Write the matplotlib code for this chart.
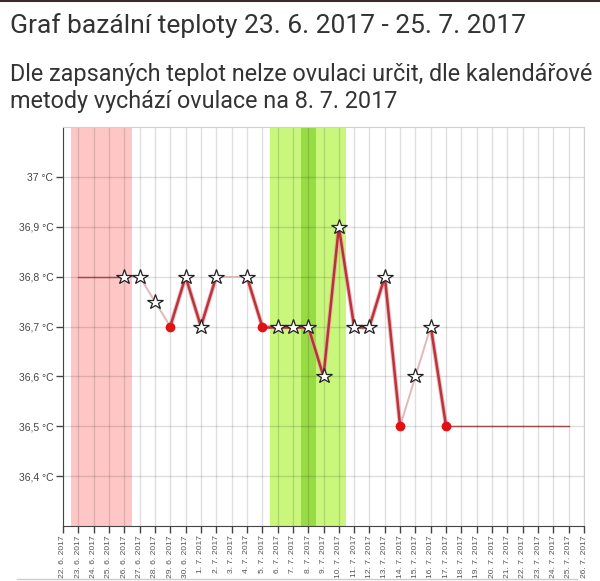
import numpy as np
import matplotlib
matplotlib.use("Agg")
import matplotlib.pyplot as plt
from matplotlib.lines import Line2D

# --- data ---
days = ["22. 6.", "23. 6.", "24. 6.", "25. 6.", "26. 6.", "27. 6.", "28. 6.", "29. 6.", "30. 6.",
        "1. 7.", "2. 7.", "3. 7.", "4. 7.", "5. 7.", "6. 7.", "7. 7.", "8. 7.", "9. 7.", "10. 7.",
        "11. 7.", "12. 7.", "13. 7.", "14. 7.", "15. 7.", "16. 7.", "17. 7.", "18. 7.", "19. 7.",
        "20. 7.", "21. 7.", "22. 7.", "23. 7.", "24. 7.", "25. 7.", "26. 7."]
date_labels = [d + " 2017" for d in days]

nan = np.nan
temps = [nan, 36.8, 36.8, 36.8, 36.8, 36.8, 36.75, 36.7, 36.8, 36.7, 36.8, 36.8, 36.8, 36.7,
         36.7, 36.7, 36.7, 36.6, 36.9, 36.7, 36.7, 36.8, 36.5, 36.6, 36.7, 36.5,
         36.5, 36.5, 36.5, 36.5, 36.5, 36.5, 36.5, 36.5, nan]
# marker per day: s = star (measured), o = red dot, '' = none
markers = ['', '', '', '', 's', 's', 's', 'o', 's', 's', 's', '', 's', 'o',
           's', 's', 's', 's', 's', 's', 's', 's', 'o', 's', 's', 'o',
           '', '', '', '', '', '', '', '', '']
# style of the segment from day i to day i+1 (starting at day 1)
seg_styles = ['flat', 'flat', 'flat', 'thin', 'thin', 'thin', 'thick', 'thick', 'thick', 'thin',
              'thin', 'thick', 'thick', 'thick', 'thick', 'thick', 'thick', 'thick', 'thick',
              'thick', 'thick', 'thin', 'thin', 'thick', 'flat', 'flat', 'flat', 'flat', 'flat',
              'flat', 'flat', 'flat']

period_days = (1, 4)       # menstruation, first and last day index
fertile_days = (14, 18)    # fertile window
ovulation_day = 16

y_ticks = [36.4, 36.5, 36.6, 36.7, 36.8, 36.9, 37.0]

title = "Graf bazální teploty 23. 6. 2017 - 25. 7. 2017"
subtitle_lines = ["Dle zapsaných teplot nelze ovulaci určit, dle kalendářové",
                  "metody vychází ovulace na 8. 7. 2017"]

plt.rcParams['font.family'] = ['Roboto', 'DejaVu Sans']

fig = plt.figure(figsize=(6, 5.81), dpi=100)
ax = fig.add_axes([63 / 600, 1 - 526 / 581, (584 - 63) / 600, (526 - 127) / 581])

x = np.arange(len(days))

# background bands
ax.axvspan(period_days[0] - 0.5, period_days[1] + 0.5, color='#ffc6c6', lw=0, zorder=0)
ax.axvspan(fertile_days[0] - 0.5, fertile_days[1] + 0.5, color='#c8f77c', lw=0, zorder=0)
ax.axvspan(ovulation_day - 0.5, ovulation_day + 0.5, color='#98dc44', lw=0, zorder=0)

# grid
for xi in x:
    ax.axvline(xi, color='#000000', alpha=0.13, lw=1, zorder=1)
for yt in y_ticks:
    ax.axhline(yt, color='#000000', alpha=0.13, lw=1, zorder=1)

# line segments
for i, style in enumerate(seg_styles, start=1):
    xs = [x[i], x[i + 1]]
    ys = [temps[i], temps[i + 1]]
    if style == 'thick':
        ax.plot(xs, ys, color='#e8a0a0', lw=3.2, alpha=0.7, zorder=2, solid_capstyle='round')
        ax.plot(xs, ys, color='#b01c26', lw=1.8, alpha=0.85, zorder=3, solid_capstyle='round')
    elif style == 'thin':
        ax.plot(xs, ys, color='#e2b8b8', lw=1.4, zorder=2)
    else:
        ax.plot(xs, ys, color='#a04848', lw=1.0, zorder=2)

# markers
for xi, t, m in zip(x, temps, markers):
    if m == 's':
        ax.plot(xi, t, marker='*', ms=11.5, mfc='white', mec='#222222', mew=0.9, zorder=5)
    elif m == 'o':
        ax.plot(xi, t, marker='o', ms=6, mfc='#e01212', mec='#e01212', zorder=5)

ax.set_xlim(0, len(days) - 1)
ax.set_ylim(36.3, 37.1)
ax.set_xticks(x)
ax.set_xticklabels(date_labels, rotation=90, fontsize=6.1, color='#555555')
ax.set_yticks(y_ticks)
ax.set_yticklabels([("%g" % v).replace('.', ',') + " °C" for v in y_ticks],
                   fontsize=7.5, color='#444444', family=['Liberation Sans', 'DejaVu Sans'])
for lab in ax.get_xticklabels():
    lab.set_family(['Liberation Sans', 'DejaVu Sans'])
ax.tick_params(axis='both', length=5, width=1, color='#444444', direction='out', pad=2)
ax.tick_params(axis='x', pad=1.5)

ax.spines['left'].set_color('#444444')
ax.spines['bottom'].set_color('#444444')
ax.spines['top'].set_color('#d0d0d0')
ax.spines['right'].set_color('#d0d0d0')

fig.text(10 / 600, 1 - 33 / 581, title, fontsize=19, color='#333333', va='baseline')
fig.text(10 / 600, 1 - 81 / 581, subtitle_lines[0], fontsize=16.8, color='#333333', va='baseline')
fig.text(10 / 600, 1 - 108 / 581, subtitle_lines[1], fontsize=16.8, color='#333333', va='baseline')

fig.add_artist(Line2D([0, 1], [1 - 0.5 / 581] * 2, color='#3a2a2a', lw=1.5))
fig.add_artist(Line2D([17 / 600, 577 / 600], [1 - 579 / 581] * 2, color='#cccccc', lw=1))

fig.savefig('out.png', dpi=100)
